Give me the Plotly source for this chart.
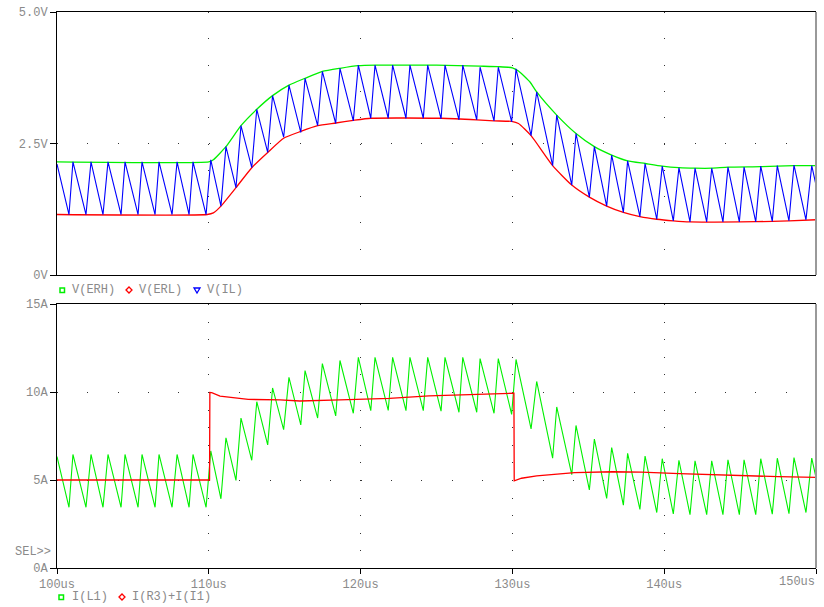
import plotly.graph_objects as go

# ---------------- data ----------------
# switching vertices of the hysteretic ripple (time in us)
t_sw = [100.00, 100.79, 101.05, 101.91, 102.24, 103.03, 103.36, 104.22, 104.48, 105.34,
        105.60, 106.46, 106.72, 107.58, 107.91, 108.70, 108.96, 109.82, 110.13, 110.80,
        111.13, 111.79, 112.12, 112.83, 113.16, 113.88, 114.20, 114.93, 115.28, 116.06,
        116.34, 117.17, 117.48, 118.36, 118.64, 119.52, 119.85, 120.67, 120.95, 121.82,
        122.11, 122.99, 123.25, 124.13, 124.42, 125.30, 125.56, 126.48, 126.73, 127.65,
        127.87, 128.79, 129.07, 129.95, 130.24, 131.23, 131.60, 132.65, 132.92, 133.91,
        134.19, 135.07, 135.40, 136.21, 136.54, 137.31, 137.59, 138.40, 138.74, 139.51,
        139.87, 140.60, 140.97, 141.70, 142.03, 142.80, 143.13, 143.87, 144.20, 144.95,
        145.26, 146.03, 146.36, 147.12, 147.45, 148.22, 148.55, 149.34, 149.72, 150.00]
v_il = [2.11, 1.15, 2.15, 1.15, 2.15, 1.15, 2.15, 1.15, 2.15, 1.15,
        2.15, 1.15, 2.15, 1.15, 2.15, 1.15, 2.15, 1.15, 2.19, 1.31,
        2.44, 1.66, 2.84, 2.04, 3.15, 2.33, 3.41, 2.62, 3.61, 2.71,
        3.74, 2.84, 3.87, 2.88, 3.93, 2.93, 3.99, 2.98, 3.99, 2.98,
        3.99, 2.98, 3.99, 2.98, 3.99, 2.97, 3.99, 2.95, 3.99, 2.95,
        3.95, 2.93, 3.95, 2.91, 3.92, 2.65, 3.48, 2.08, 3.04, 1.71,
        2.69, 1.48, 2.44, 1.31, 2.28, 1.19, 2.17, 1.11, 2.12, 1.06,
        2.07, 1.03, 2.04, 1.01, 2.03, 1.01, 2.03, 1.01, 2.05, 1.01,
        2.05, 1.01, 2.07, 1.02, 2.08, 1.03, 2.09, 1.05, 2.08, 1.71]
i_l1 = [6.33, 3.45, 6.45, 3.45, 6.45, 3.45, 6.45, 3.45, 6.45, 3.45,
        6.45, 3.45, 6.45, 3.45, 6.45, 3.45, 6.45, 3.45, 6.65, 3.93,
        7.40, 4.98, 8.52, 6.12, 9.45, 6.99, 10.23, 7.86, 10.83, 8.13,
        11.22, 8.52, 11.61, 8.64, 11.79, 8.79, 11.97, 8.94, 11.97, 8.95,
        11.97, 8.94, 11.97, 8.94, 11.97, 8.91, 11.97, 8.85, 11.97, 8.85,
        11.90, 8.79, 11.90, 8.73, 11.85, 7.90, 10.60, 6.24, 9.15, 5.30,
        8.10, 4.44, 7.32, 3.95, 6.84, 3.57, 6.51, 3.33, 6.36, 3.15,
        6.21, 3.07, 6.12, 3.03, 6.09, 3.03, 6.09, 3.03, 6.15, 3.03,
        6.15, 3.03, 6.21, 3.06, 6.24, 3.09, 6.27, 3.15, 6.24, 5.13]

t_erh = [100.0, 110.0, 110.3, 111.13, 112.12, 113.16, 114.20, 115.28, 116.34, 117.48,
         118.64, 119.85, 121.0, 125.0, 127.87, 129.07, 130.0, 130.4, 131.16, 131.60,
         132.92, 134.19, 135.40, 136.54, 137.59, 138.74, 139.87, 140.97, 142.03, 143.13,
         144.20, 146.36, 148.55, 150.0]
v_erh = [2.15, 2.15, 2.19, 2.44, 2.84, 3.15, 3.41, 3.61, 3.74, 3.87,
         3.93, 3.98, 3.99, 3.99, 3.97, 3.96, 3.94, 3.88, 3.67, 3.48,
         3.04, 2.69, 2.44, 2.28, 2.17, 2.12, 2.07, 2.04, 2.03, 2.03,
         2.05, 2.06, 2.08, 2.08]

t_erl = [100.0, 109.9, 110.3, 110.80, 111.79, 112.83, 113.88, 114.93, 116.06, 117.17,
         118.36, 119.52, 120.67, 125.3, 127.65, 128.79, 129.95, 130.4, 131.23, 132.65,
         133.91, 135.07, 136.21, 137.31, 138.40, 139.51, 140.60, 141.70, 145.0, 147.12,
         148.22, 150.0]
v_erl = [1.15, 1.15, 1.18, 1.31, 1.66, 2.04, 2.33, 2.60, 2.73, 2.84,
         2.89, 2.94, 2.98, 2.98, 2.95, 2.93, 2.92, 2.88, 2.65, 2.08,
         1.71, 1.48, 1.31, 1.19, 1.11, 1.06, 1.03, 1.01, 1.01, 1.02,
         1.03, 1.05]

t_load = [100.0, 110.05, 110.07, 110.19, 110.74, 111.84, 112.6, 114.69, 116.0, 118.64,
          121.9, 124.5, 127.4, 128.97, 130.1, 130.12, 130.6, 131.6, 132.9, 134.1,
          136.6, 138.5, 141.0, 145.0, 147.5, 150.0]
i_load = [5.0, 5.0, 9.97, 9.96, 9.77, 9.64, 9.58, 9.55, 9.49, 9.55,
          9.64, 9.78, 9.87, 9.93, 9.93, 4.95, 5.1, 5.23, 5.34, 5.42,
          5.47, 5.45, 5.36, 5.23, 5.19, 5.15]

x_ticks = [100, 110, 120, 130, 140, 150]
x_ticktext = ["100us", "110us", "120us", "130us", "140us", ""]
v_ticks = [0, 2.5, 5.0]
v_ticktext = ["0V", "2.5V", "5.0V"]
i_ticks = [0, 5, 10, 15]
i_ticktext = ["0A", "5A", "10A", "15A"]

# ---------------- layout helpers ----------------
W, H = 824, 607
def px(x):
    return x / W
def py(y):
    return 1 - y / H

GREEN = "#00f000"
RED = "#ff0000"
BLUE = "#0000ff"
GRAY = "#8a8a8a"
FONT = "Liberation Mono"

fig = go.Figure()
fig.add_trace(go.Scatter(x=t_erh, y=v_erh, mode="lines",
                         line=dict(color=GREEN, width=1.3, shape="spline", smoothing=0.5),
                         xaxis="x", yaxis="y", showlegend=False))
fig.add_trace(go.Scatter(x=t_erl, y=v_erl, mode="lines",
                         line=dict(color=RED, width=1.3, shape="spline", smoothing=0.5),
                         xaxis="x", yaxis="y", showlegend=False))
fig.add_trace(go.Scatter(x=t_sw, y=v_il, mode="lines", line=dict(color=BLUE, width=1.1),
                         xaxis="x", yaxis="y", showlegend=False))
fig.add_trace(go.Scatter(x=t_sw, y=i_l1, mode="lines", line=dict(color=GREEN, width=1.1),
                         xaxis="x2", yaxis="y2", showlegend=False))
fig.add_trace(go.Scatter(x=t_load, y=i_load, mode="lines", line=dict(color=RED, width=1.3),
                         xaxis="x2", yaxis="y2", showlegend=False))

tickfont = dict(family=FONT, size=12, color=GRAY)
xdom = [px(57), px(816)]

common_x = dict(range=[100, 150], domain=xdom, tickvals=x_ticks, showline=True,
                linecolor="black", linewidth=1, mirror=True, zeroline=False,
                showgrid=True, gridcolor="#333333", gridwidth=1, tickfont=tickfont,
                automargin=False)
common_y = dict(showline=True, linecolor="black", linewidth=1, zeroline=False,
                ticks="outside", ticklen=6, tickcolor="black", showgrid=True,
                gridcolor="#333333", gridwidth=1, griddash="1px,29.36px", tickfont=tickfont,
                automargin=False)

fig.update_layout(
    width=W, height=H,
    margin=dict(l=0, r=0, t=0, b=0),
    paper_bgcolor="white", plot_bgcolor="white",
    showlegend=False,
    xaxis=dict(**common_x, anchor="y", showticklabels=False, ticks="",
               griddash="1px,25.3px"),
    yaxis=dict(**common_y, domain=[py(275), py(12)], range=[0, 5], anchor="x",
               tickvals=v_ticks, ticktext=v_ticktext),
    xaxis2=dict(**common_x, anchor="y2", ticktext=x_ticktext, ticks="outside",
                ticklen=5, tickcolor="black", griddash="1px,16.6px"),
    yaxis2=dict(**common_y, domain=[py(568), py(304)], range=[0, 15], anchor="x2",
                tickvals=i_ticks, ticktext=i_ticktext),
)

ann_font = dict(family=FONT, size=12, color=GRAY)
def label(text, x, y, anchor="left"):
    fig.add_annotation(text=text, x=px(x), y=py(y), xref="paper", yref="paper",
                       xanchor=anchor, yanchor="middle", showarrow=False,
                       font=ann_font, borderpad=0)

label("V(ERH)", 71, 290)
label("V(ERL)", 138, 290)
label("V(IL)", 206, 290)
label("I(L1)", 71, 597)
label("I(R3)+I(I1)", 131, 597)
label("SEL>>", 14, 552)
label("150us", 816, 582, anchor="right")

def pth(points):
    s = "M " + " L ".join(f"{px(a):.5f},{py(b):.5f}" for a, b in points) + " Z"
    return s

shapes = [
    dict(type="rect", xref="paper", yref="paper", x0=px(60), x1=px(64.5), y0=py(292.5),
         y1=py(288), line=dict(color=GREEN, width=1.5)),
    dict(type="path", xref="paper", yref="paper",
         path=pth([(126, 290), (129, 287), (132, 290), (129, 293)]),
         line=dict(color=RED, width=1.3)),
    dict(type="path", xref="paper", yref="paper",
         path=pth([(194, 288), (200, 288), (197, 293)]),
         line=dict(color=BLUE, width=1.3)),
    dict(type="rect", xref="paper", yref="paper", x0=px(59), x1=px(63.5), y0=py(599.5),
         y1=py(595), line=dict(color=GREEN, width=1.5)),
    dict(type="path", xref="paper", yref="paper",
         path=pth([(119, 597), (122, 594), (125, 597), (122, 600)]),
         line=dict(color=RED, width=1.3)),
    # grey right border of each panel
    dict(type="line", xref="paper", yref="paper", x0=px(816), x1=px(816), y0=py(275), y1=py(12),
         line=dict(color="#999999", width=2)),
    dict(type="line", xref="paper", yref="paper", x0=px(816), x1=px(816), y0=py(568), y1=py(304),
         line=dict(color="#999999", width=2)),
]
fig.update_layout(shapes=shapes)

fig.write_html("out.html")
